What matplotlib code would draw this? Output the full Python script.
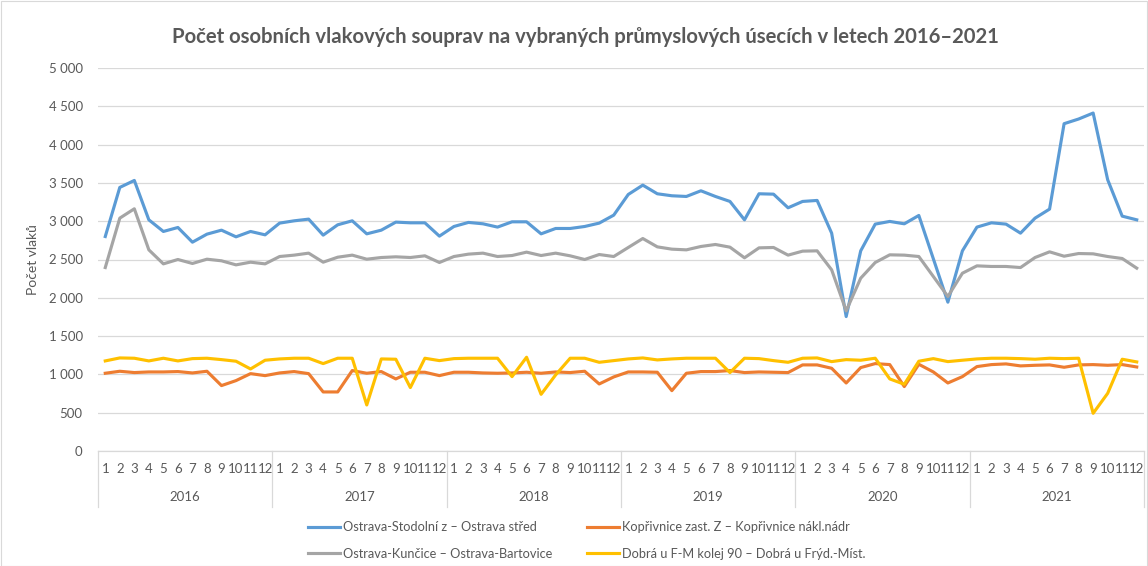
import matplotlib
matplotlib.use("Agg")
import matplotlib.pyplot as plt
import matplotlib.transforms as mtransforms
import numpy as np

years = ["2016", "2017", "2018", "2019", "2020", "2021"]
months = [str(m) for m in range(1, 13)]

series_names = [
    "Ostrava-Stodolní z – Ostrava střed",
    "Ostrava-Kunčice – Ostrava-Bartovice",
    "Kopřivnice zast. Z – Kopřivnice nákl.nádr",
    "Dobrá u F-M kolej 90 – Dobrá u Frýd.-Míst.",
]

stodolni = [
    2800, 3441, 3532, 3018, 2866, 2918, 2726, 2831, 2883, 2796, 2866, 2822,
    2975, 3005, 3027, 2818, 2953, 3005, 2835, 2883, 2988, 2979, 2979, 2805,
    2931, 2984, 2966, 2923, 2992, 2992, 2835, 2905, 2905, 2931, 2975, 3079,
    3349, 3471, 3358, 3332, 3323, 3397, 3323, 3258, 3018, 3358, 3353, 3175,
    3258, 3271, 2844, 1755, 2613, 2962, 2997, 2966, 3075, 2509, 1943, 2613,
    2923, 2979, 2962, 2844, 3040, 3158, 4273, 4334, 4412, 3541, 3066, 3018,
]
kuncice = [
    2395, 3040, 3162, 2626, 2443, 2500, 2448, 2504, 2483, 2430, 2465, 2443,
    2539, 2557, 2583, 2465, 2530, 2557, 2504, 2526, 2535, 2526, 2548, 2461,
    2539, 2570, 2583, 2539, 2552, 2596, 2552, 2583, 2548, 2500, 2565, 2539,
    2657, 2774, 2665, 2635, 2626, 2670, 2696, 2661, 2522, 2652, 2657, 2557,
    2609, 2613, 2365, 1829, 2256, 2461, 2561, 2557, 2539, 2278, 2017, 2321,
    2417, 2409, 2409, 2395, 2526, 2600, 2543, 2578, 2574, 2539, 2513, 2387,
]
koprivnice = [
    1015, 1041, 1024, 1032, 1032, 1037, 1019, 1041, 854, 919, 1010, 984,
    1019, 1037, 1010, 771, 771, 1050, 1015, 1037, 941, 1028, 1028, 984,
    1028, 1028, 1019, 1015, 1019, 1028, 1015, 1032, 1024, 1041, 875, 967,
    1032, 1032, 1028, 788, 1015, 1037, 1037, 1050, 1024, 1032, 1028, 1024,
    1124, 1124, 1080, 888, 1089, 1141, 1128, 841, 1132, 1032, 888, 971,
    1102, 1128, 1137, 1111, 1119, 1124, 1093, 1124, 1128, 1119, 1128, 1097,
]
dobra = [
    1176, 1215, 1211, 1176, 1211, 1176, 1206, 1211, 1193, 1172, 1071, 1185,
    1202, 1211, 1211, 1141, 1211, 1211, 601, 1202, 1198, 828, 1211, 1180,
    1206, 1211, 1211, 1211, 971, 1224, 740, 993, 1211, 1211, 1158, 1180,
    1202, 1215, 1189, 1202, 1211, 1211, 1211, 1024, 1211, 1206, 1180, 1158,
    1211, 1215, 1167, 1193, 1185, 1211, 941, 871, 1172, 1206, 1167, 1185,
    1202, 1211, 1211, 1206, 1198, 1211, 1206, 1211, 492, 753, 1198, 1163,
]

colors = ["#5B9BD5", "#A5A5A5", "#ED7D31", "#FFC000"]
text_color = "#595959"
grid_color = "#D9D9D9"

plt.rcParams["font.family"] = ["Lato", "DejaVu Sans"]

W, H = 1148, 566
fig = plt.figure(figsize=(W / 100, H / 100), dpi=100)
fig.patches.append(plt.Rectangle((0.5 / W, 0.5 / H), 1 - 1.5 / W, 1 - 1.5 / H,
                                 transform=fig.transFigure, fill=False,
                                 edgecolor="#D9D9D9", lw=0.8))

left, right, top, bottom = 98, 1144, 68, 451
ax = fig.add_axes([left / W, 1 - bottom / H, (right - left) / W, (bottom - top) / H])

n = len(years) * len(months)
x = np.arange(n)
for data, name, c in zip([stodolni, kuncice, koprivnice, dobra], series_names, colors):
    ax.plot(x, data, color=c, lw=2.25, label=name, solid_joinstyle="round")

ax.set_xlim(-0.5, n - 0.5)
ax.set_ylim(0, 5000)
yt = np.arange(0, 5001, 500)
ax.set_yticks(yt)
ax.set_yticklabels([f"{v:,}".replace(",", " ") for v in yt], color=text_color, fontsize=9.5)
ax.yaxis.grid(True, color=grid_color, lw=0.9)
ax.set_axisbelow(True)
ax.tick_params(axis="y", length=0, pad=11)

ax.set_xticks(x)
ax.set_xticklabels(months * len(years), color=text_color, fontsize=9.5)
ax.tick_params(axis="x", length=0, pad=8.5)

for s in ["top", "right", "left"]:
    ax.spines[s].set_visible(False)
ax.spines["bottom"].set_color(grid_color)
ax.spines["bottom"].set_linewidth(0.9)

trans = mtransforms.blended_transform_factory(ax.transData, ax.transAxes)
sep_depth = (507 - bottom) / (bottom - top)
for i in range(len(years) + 1):
    xb = i * 12 - 0.5
    ax.plot([xb, xb], [0, -sep_depth], transform=trans, color=grid_color, lw=0.9, clip_on=False)
year_y = -(497 - bottom) / (bottom - top)
for i, yr in enumerate(years):
    ax.text(i * 12 + 5.5, year_y, yr, transform=trans, ha="center", va="center",
            color=text_color, fontsize=9.5)

ax.set_ylabel("Počet vlaků", color=text_color, fontsize=10)
ax.yaxis.set_label_coords(-(left - 39) / (right - left), 0.5)

fig.text(585 / W, 1 - 37 / H,
         "Počet osobních vlakových souprav na vybraných průmyslových úsecích v letech 2016–2021",
         ha="center", va="center", fontsize=14.6, fontweight="bold", color=text_color)

fs = 9.2
fpx = fs * 100 / 72
leg = fig.legend(loc="center left", bbox_to_anchor=(302 / W, 1 - 540.5 / H), ncol=2,
                 frameon=False, fontsize=fs, labelcolor=text_color, borderpad=0,
                 handlelength=32 / fpx, handletextpad=3 / fpx, columnspacing=34 / fpx,
                 labelspacing=1.15)

fig.savefig("out.png", dpi=100)
